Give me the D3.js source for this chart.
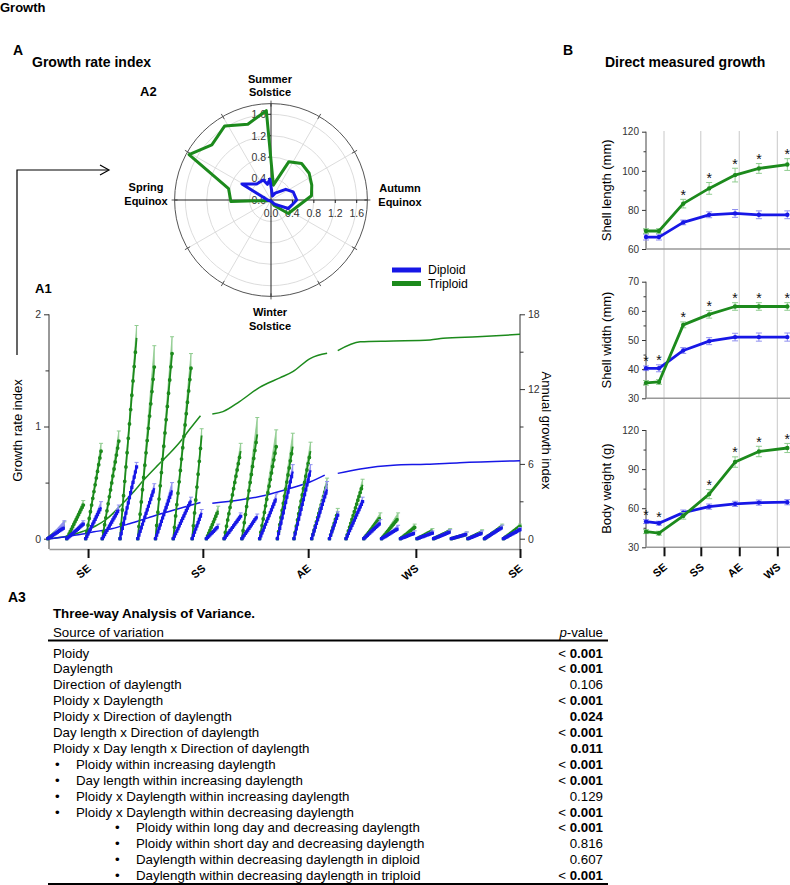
<!DOCTYPE html>
<html>
<head>
<meta charset="utf-8">
<title>Growth</title>
<script src="https://cdn.jsdelivr.net/npm/d3@7"></script>
<style>
  body { margin: 0; background: #fff; }
  text { font-family: "Liberation Sans", Arial, Helvetica, sans-serif; }
</style>
</head>
<body>
<div id="growthChart"></div>
<script>
// ---------- data ----------
const seasonLabels = ['SE', 'SS', 'AE', 'WS', 'SE']
const seasonDays = [0, 97, 186, 277, 365]   // days after spring equinox

// A1: sampling periods (days after SE) and end-of-period growth rate index
const periodStart = [-34, -18, -2, 12, 27, 42, 57, 72, 88, 100, 115, 130, 145, 160, 174, 189, 204, 218, 233, 248, 264, 278, 292, 307, 321, 335, 351]
const periodEnd   = [-20, -4, 11, 26, 41, 56, 71, 87, 96, 110, 129, 143, 159, 173, 188, 202, 211, 232, 247, 262, 276, 291, 306, 320, 333, 350, 365]
const triPeak = [0.12, 0.30, 0.78, 0.87, 1.79, 1.53, 1.65, 1.52, 0.92, 0.25, 0.78, 0.93, 0.82, 0.82, 0.78, 0.49, 0.24, 0.48, 0.19, 0.18, 0.10, 0.07, 0.07, 0.04, 0.06, 0.11, 0.11]
const triErr  = [0.03, 0.04, 0.07, 0.09, 0.11, 0.19, 0.15, 0.13, 0.06, 0.04, 0.07, 0.15, 0.15, 0.12, 0.08, 0.05, 0.03, 0.05, 0.04, 0.05, 0.03, 0.02, 0.02, 0.02, 0.02, 0.02, 0.02]
const dipPeak = [0.10, 0.13, 0.28, 0.26, 0.64, 0.45, 0.43, 0.34, 0.23, 0.11, 0.20, 0.20, 0.36, 0.60, 0.61, 0.44, 0.21, 0.33, 0.14, 0.09, 0.05, 0.05, 0.06, 0.04, 0.05, 0.10, 0.08]
const dipErr  = [0.06, 0.03, 0.05, 0.04, 0.04, 0.04, 0.07, 0.03, 0.03, 0.02, 0.03, 0.02, 0.04, 0.06, 0.05, 0.07, 0.03, 0.04, 0.03, 0.03, 0.02, 0.02, 0.02, 0.02, 0.02, 0.02, 0.02]

// A1: annual growth index (right axis), null = gap in record
const triAnnualDays = [-34, -18, -4, 6, 16, 27, 37, 47, 58, 69, 78, 86, 95, 96, 105, 114, 128, 145, 162, 173, 188, 202, 203, 211, 230, 258, 289, 300, 329, 365]
const triAnnual     = [0, 0.2, 0.6, 1.0, 1.6, 2.6, 3.6, 4.7, 5.8, 6.85, 7.8, 8.8, 9.87, null, 10.0, 10.19, 11.0, 12.14, 12.9, 13.4, 14.47, 14.87, null, 15.08, 15.8, 15.86, 15.94, 16.07, 16.2, 16.39]
const dipAnnualDays = [-32, -10, 5, 20, 35, 50, 65, 80, 95, 96, 105, 128, 151, 171, 188, 200, 201, 211, 230, 258, 286, 314, 365]
const dipAnnual     = [0, 0.3, 0.55, 0.8, 1.2, 1.65, 2.1, 2.5, 2.9, null, 2.84, 3.1, 3.5, 4.04, 4.57, 5.1, null, 5.24, 5.6, 5.9, 5.97, 6.1, 6.26]

// A2: polar growth rate index (angle clockwise from summer solstice, degrees)
const polarTriAngle = [9, 25, 40, 55, 70, 84, 128, 150, 180, 215, 250, 268, 285, 299, 313, 328, 343, 357]
const polarTriValue = [0.28, 0.79, 0.89, 0.87, 0.81, 0.76, 0.41, 0.12, 0.02, 0.02, 0.03, 0.75, 0.82, 1.75, 1.51, 1.63, 1.48, 1.67]
const polarDipAngle = [20, 31, 54, 70, 90, 104, 116, 140, 180, 220, 260, 299, 318, 339, 347, 357]
const polarDipValue = [0.08, 0.15, 0.34, 0.44, 0.48, 0.40, 0.36, 0.10, 0.02, 0.02, 0.05, 0.62, 0.40, 0.40, 0.30, 0.39]
const polarTicks = [0, 0.4, 0.8, 1.2, 1.6]

// B: direct measurements
const bTickLabels = ['SE', 'SS', 'AE', 'WS']
const bTickDays = [0, 88, 180, 271]
const bDays = [-43, -12, 46, 108, 170, 227, 295]
const lengthTri = [69.2, 69.2, 83.2, 91.0, 97.8, 101.2, 103.2]
const lengthTriErr = [1.2, 1.2, 2.2, 3.0, 3.5, 2.5, 3.0]
const lengthDip = [66.1, 66.1, 73.6, 77.5, 78.2, 77.5, 77.5]
const lengthDipErr = [1.5, 1.5, 1.2, 1.5, 2.0, 2.0, 2.0]
const lengthStars = [2, 3, 4, 5, 6]
const widthTri = [35.3, 35.6, 55.2, 58.8, 61.5, 61.5, 61.5]
const widthTriErr = [0.8, 0.8, 1.0, 1.3, 1.3, 1.3, 1.3]
const widthDip = [40.3, 40.3, 46.4, 49.6, 51.0, 51.0, 51.0]
const widthDipErr = [0.8, 1.2, 1.0, 1.2, 1.3, 1.4, 1.4]
const widthStars = [0, 1, 2, 3, 4, 5, 6]
const weightTri = [42.0, 40.8, 54.1, 70.8, 95.4, 103.5, 106.2]
const weightTriErr = [1.5, 1.5, 2.5, 3.5, 4.0, 4.0, 3.5]
const weightDip = [49.7, 48.5, 56.6, 61.2, 63.3, 64.3, 64.6]
const weightDipErr = [1.5, 1.5, 2.0, 2.0, 2.0, 2.0, 2.0]
const weightStars = [0, 1, 3, 4, 5, 6]

// A3: ANOVA table
const anovaSource = [
  'Ploidy', 'Daylength', 'Direction of daylength', 'Ploidy x Daylength',
  'Ploidy x Direction of daylength', 'Day length x Direction of daylength',
  'Ploidy x Day length x Direction of daylength',
  'Ploidy within increasing daylength', 'Day length within increasing daylength',
  'Ploidy x Daylength within increasing daylength', 'Ploidy x Daylength within decreasing daylength',
  'Ploidy within long day and decreasing daylength', 'Ploidy within short day and decreasing daylength',
  'Daylength within decreasing daylength in diploid', 'Daylength within decreasing daylength in triploid'
]
const anovaLevel = [0, 0, 0, 0, 0, 0, 0, 1, 1, 1, 1, 2, 2, 2, 2]
const anovaP = ['< 0.001', '< 0.001', '0.106', '< 0.001', '0.024', '< 0.001', '0.011', '< 0.001', '< 0.001', '0.129', '< 0.001', '< 0.001', '0.816', '0.607', '< 0.001']

// ---------- styles ----------
const green = '#1c8a1c', greenLight = '#8fcc8f'
const blue = '#1717e6', blueLight = '#9090f0'

const svg = d3.select('#growthChart').append('svg')
  .attr('width', 790).attr('height', 885)

function addText (g, x, y, str, size, weight, anchor) {
  return g.append('text').attr('x', x).attr('y', y)
    .attr('font-size', size).attr('font-weight', weight || 'normal')
    .attr('text-anchor', anchor || 'start').attr('fill', '#000')
    .text(str)
}

// headings
addText(svg, 0, 12, 'Growth', 13, 'bold')
addText(svg, 13, 55, 'A', 14, 'bold')
addText(svg, 32, 67, 'Growth rate index', 14, 'bold')
addText(svg, 140, 96, 'A2', 13, 'bold')
addText(svg, 35, 293, 'A1', 13, 'bold')
addText(svg, 563, 55, 'B', 14, 'bold')
addText(svg, 605, 67, 'Direct measured growth', 14, 'bold')

// arrow from A1 to A2
svg.append('path').attr('d', 'M17,355V170H108').attr('fill', 'none').attr('stroke', '#000').attr('stroke-width', 1.2)
svg.append('path').attr('d', 'M100,165L109,170L100,175').attr('fill', 'none').attr('stroke', '#000').attr('stroke-width', 1.2)

// ---------- A2 polar ----------
const rP = d3.scaleLinear().domain([0, 1.8]).range([0, 96.4])
const polar = svg.append('g').attr('transform', 'translate(271,200)')
const R = rP(1.8)

polar.selectAll('.ring').data(polarTicks.slice(1)).join('circle')
  .attr('class', 'ring').attr('r', d => rP(d))
  .attr('fill', 'none').attr('stroke', '#d8d8d8').attr('stroke-width', 0.9)
polar.selectAll('.spoke').data(d3.range(30, 360, 30).filter(a => a % 90 !== 0)).join('line')
  .attr('class', 'spoke')
  .attr('x2', a => R * Math.sin(a * Math.PI / 180)).attr('y2', a => -R * Math.cos(a * Math.PI / 180))
  .attr('stroke', '#d8d8d8').attr('stroke-width', 0.9)
polar.append('circle').attr('r', R).attr('fill', 'none').attr('stroke', '#555').attr('stroke-width', 1)
polar.selectAll('.otick').data(d3.range(0, 360, 30)).join('line')
  .attr('class', 'otick')
  .attr('x1', a => (R - 3) * Math.sin(a * Math.PI / 180)).attr('y1', a => -(R - 3) * Math.cos(a * Math.PI / 180))
  .attr('x2', a => (R + 3) * Math.sin(a * Math.PI / 180)).attr('y2', a => -(R + 3) * Math.cos(a * Math.PI / 180))
  .attr('stroke', '#555')
polar.append('line').attr('x1', -R).attr('x2', R).attr('stroke', '#222')
polar.append('line').attr('y1', -R).attr('y2', R).attr('stroke', '#222')
polar.selectAll('.htick').data(polarTicks).join('line').attr('class', 'htick')
  .attr('x1', d => rP(d)).attr('x2', d => rP(d)).attr('y2', 3).attr('stroke', '#222')
polar.selectAll('.vtick').data(polarTicks).join('line').attr('class', 'vtick')
  .attr('y1', d => -rP(d)).attr('y2', d => -rP(d)).attr('x2', -3).attr('stroke', '#222')
polar.selectAll('.hlab').data(polarTicks).join('text').attr('class', 'hlab')
  .attr('x', d => rP(d)).attr('y', 16.5).attr('text-anchor', 'middle')
  .attr('font-size', 10.5).attr('fill', '#333').text(d => d.toFixed(1))
polar.selectAll('.vlab').data(polarTicks).join('text').attr('class', 'vlab')
  .attr('x', -5).attr('y', d => -rP(d) + 3.8).attr('text-anchor', 'end')
  .attr('font-size', 10.5).attr('fill', '#333').text(d => d.toFixed(1))

const radial = d3.lineRadial()
  .angle(d => d[0] * Math.PI / 180)
  .radius(d => rP(d[1]))
  .curve(d3.curveLinearClosed)
polar.append('path').datum(polarTriAngle.map((a, i) => [a, polarTriValue[i]]))
  .attr('d', radial).attr('fill', 'none').attr('stroke', green)
  .attr('stroke-width', 3).attr('stroke-linejoin', 'round')
polar.append('path').datum(polarDipAngle.map((a, i) => [a, polarDipValue[i]]))
  .attr('d', radial).attr('fill', 'none').attr('stroke', blue)
  .attr('stroke-width', 3).attr('stroke-linejoin', 'round')

addText(svg, 270, 83, 'Summer', 11, 'bold', 'middle')
addText(svg, 270, 96, 'Solstice', 11, 'bold', 'middle')
addText(svg, 146, 191, 'Spring', 11, 'bold', 'middle')
addText(svg, 146, 205, 'Equinox', 11, 'bold', 'middle')
addText(svg, 400, 192, 'Autumn', 11, 'bold', 'middle')
addText(svg, 400, 206, 'Equinox', 11, 'bold', 'middle')
addText(svg, 270, 316, 'Winter', 11, 'bold', 'middle')
addText(svg, 270, 329.5, 'Solstice', 11, 'bold', 'middle')

// legend
const legend = svg.append('g')
;[['Diploid', blue], ['Triploid', green]].forEach(([name, c], i) => {
  legend.append('line').attr('x1', 392).attr('x2', 421).attr('y1', 270 + i * 13.5).attr('y2', 270 + i * 13.5)
    .attr('stroke', c).attr('stroke-width', 5)
  addText(legend, 428, 274.2 + i * 13.5, name, 12.3)
})

// ---------- A1 ----------
const xA = d3.scaleLinear().domain([-33, 365]).range([49, 520])
const yRate = d3.scaleLinear().domain([0, 2]).range([538.7, 314.3])
const yAnnual = d3.scaleLinear().domain([0, 18]).range([538.7, 314.3])
const a1Bottom = 549

function styleAxis (g) {
  g.attr('font-family', null)
  g.selectAll('.tick text').attr('font-size', 10.5).attr('fill', '#333')
  g.selectAll('.tick line').attr('stroke', '#333')
}

const leftAx = svg.append('g').attr('transform', `translate(${xA(-33)},0)`)
  .call(d3.axisLeft(yRate).tickValues([0, 0.5, 1, 1.5, 2]).tickSize(5).tickFormat(d => Number.isInteger(d) ? d : ''))
leftAx.select('.domain').remove()
leftAx.append('line').attr('y1', yRate(2)).attr('y2', a1Bottom).attr('stroke', '#333')
leftAx.selectAll('.tick line').filter(d => !Number.isInteger(d)).attr('x2', -3.5)
styleAxis(leftAx)

const rightAx = svg.append('g').attr('transform', `translate(${xA(365)},0)`)
  .call(d3.axisRight(yAnnual).tickValues([0, 3, 6, 9, 12, 15, 18]).tickSize(5).tickFormat(d => d % 6 === 0 ? d : ''))
rightAx.select('.domain').remove()
rightAx.append('line').attr('y1', yAnnual(18)).attr('y2', a1Bottom).attr('stroke', '#333')
rightAx.selectAll('.tick line').filter(d => d % 6 !== 0).attr('x2', 3.5)
styleAxis(rightAx)

const bottomAx = svg.append('g').attr('transform', `translate(0,${a1Bottom})`)
  .call(d3.axisBottom(xA).tickValues(seasonDays).tickSize(9).tickSizeOuter(0).tickFormat((d, i) => seasonLabels[i]))
bottomAx.attr('font-family', null)
bottomAx.select('.domain').attr('stroke', '#999').attr('stroke-width', 1.6)
bottomAx.selectAll('.tick line').attr('stroke', '#111').attr('stroke-width', 2)
bottomAx.selectAll('.tick text').attr('y', 0).attr('dy', 0).attr('fill', '#000')
  .attr('font-size', 11).attr('font-weight', 'bold').attr('text-anchor', 'end')
  .attr('transform', 'translate(3,20.5) rotate(-40)')

svg.append('text').attr('transform', `translate(22,${(yRate(0) + yRate(2)) / 2 + 4}) rotate(-90)`)
  .attr('text-anchor', 'middle').attr('font-size', 13).text('Growth rate index')
svg.append('text').attr('transform', `translate(542,${(yRate(0) + yRate(2)) / 2 + 4}) rotate(90)`)
  .attr('text-anchor', 'middle').attr('font-size', 13).text('Annual growth index')

// annual growth index lines
const annualLine = d3.line()
  .defined(d => d[1] != null)
  .x(d => xA(d[0])).y(d => yAnnual(d[1]))
  .curve(d3.curveMonotoneX)
svg.append('path').datum(triAnnualDays.map((d, i) => [d, triAnnual[i]]))
  .attr('d', annualLine).attr('fill', 'none').attr('stroke', green).attr('stroke-width', 1.5)
svg.append('path').datum(dipAnnualDays.map((d, i) => [d, dipAnnual[i]]))
  .attr('d', annualLine).attr('fill', 'none').attr('stroke', blue).attr('stroke-width', 1.5)

// period growth spikes: line with one marker per day, error bars merge into a light wedge
function drawSpikes (peaks, errs, color, light, lineW, dotW, cap) {
  const g = svg.append('g')
  const rows = periodStart.map((s, i) => ({ s, e: periodEnd[i], v: peaks[i], err: errs[i] }))
  const seg = d => d3.line()([[xA(d.s), yRate(0)], [xA(d.e), yRate(d.v)]])
  g.selectAll('.err').data(rows).join('path').attr('class', 'err')
    .attr('d', d => d3.line()([[xA(d.s), yRate(0)], [xA(d.e), yRate(d.v + d.err)], [xA(d.e), yRate(d.v)]]) + 'Z')
    .attr('fill', light).attr('stroke', light).attr('stroke-width', 0.8)
  g.selectAll('.cap').data(rows).join('line').attr('class', 'cap')
    .attr('x1', d => xA(d.e) - 2).attr('x2', d => xA(d.e) + 2)
    .attr('y1', d => yRate(d.v + d.err)).attr('y2', d => yRate(d.v + d.err))
    .attr('stroke', light).attr('stroke-width', 1)
  g.selectAll('.ln').data(rows).join('path').attr('class', 'ln')
    .attr('d', seg).attr('fill', 'none').attr('stroke', color).attr('stroke-width', lineW)
  g.selectAll('.dots').data(rows).join('path').attr('class', 'dots')
    .attr('d', seg).attr('pathLength', d => d.e - d.s)
    .attr('fill', 'none').attr('stroke', color).attr('stroke-width', dotW)
    .attr('stroke-dasharray', '0 1').attr('stroke-linecap', cap)
}
drawSpikes(triPeak, triErr, green, greenLight, 1.8, 3.8, 'round')
drawSpikes(dipPeak, dipErr, blue, blueLight, 2.2, 3.2, 'square')

// ---------- B ----------
const xB = d3.scaleLinear().domain([0, 271]).range([664, 777.3])
const bAxisX = 646, bRightX = 790, bTop = 131, bBottom = 547.3

svg.append('g').selectAll('line').data(bTickDays).join('line')
  .attr('x1', d => xB(d)).attr('x2', d => xB(d)).attr('y1', bTop).attr('y2', bBottom)
  .attr('stroke', '#c2c2c2').attr('stroke-width', 0.9)

const panels = [
  { label: 'Shell length (mm)', domain: [60, 120], range: [249, 131.7], ticks: [60, 70, 80, 90, 100, 110, 120], step: 20,
    tri: lengthTri, triErr: lengthTriErr, dip: lengthDip, dipErr: lengthDipErr, stars: lengthStars },
  { label: 'Shell width (mm)', domain: [30, 70], range: [398.3, 281.7], ticks: [30, 35, 40, 45, 50, 55, 60, 65, 70], step: 10,
    tri: widthTri, triErr: widthTriErr, dip: widthDip, dipErr: widthDipErr, stars: widthStars },
  { label: 'Body weight (g)', domain: [30, 120], range: [bBottom, 430], ticks: [30, 45, 60, 75, 90, 105, 120], step: 30,
    tri: weightTri, triErr: weightTriErr, dip: weightDip, dipErr: weightDipErr, stars: weightStars }
]

function drawSeries (g, y, vals, errs, color, light) {
  const pts = bDays.map((d, i) => ({ x: xB(d), v: vals[i], e: errs[i] }))
  g.append('g').selectAll('path').data(pts).join('path')
    .attr('d', d => `M${d.x},${y(d.v - d.e)}V${y(d.v + d.e)}M${d.x - 3},${y(d.v - d.e)}h6M${d.x - 3},${y(d.v + d.e)}h6`)
    .attr('stroke', light).attr('stroke-width', 1).attr('fill', 'none')
  g.append('path').datum(pts)
    .attr('d', d3.line().x(d => d.x).y(d => y(d.v)))
    .attr('fill', 'none').attr('stroke', color).attr('stroke-width', 2.8).attr('stroke-linejoin', 'round')
  g.append('g').selectAll('circle').data(pts).join('circle')
    .attr('cx', d => d.x).attr('cy', d => y(d.v)).attr('r', 2.2).attr('fill', color)
}

panels.forEach(p => {
  const y = d3.scaleLinear().domain(p.domain).range(p.range)
  const g = svg.append('g')
  const ax = g.append('g').attr('transform', `translate(${bAxisX},0)`)
    .call(d3.axisLeft(y).tickValues(p.ticks).tickSize(4)
      .tickFormat(d => (d - p.domain[0]) % p.step === 0 ? d : ''))
  ax.select('.domain').remove()
  ax.append('line').attr('y1', p.range[0]).attr('y2', p.range[1]).attr('stroke', '#444')
  ax.selectAll('.tick line').filter(d => (d - p.domain[0]) % p.step !== 0).attr('x2', -2.5)
  styleAxis(ax)
  ax.selectAll('.tick text').attr('font-size', 10)
  g.append('line').attr('x1', bAxisX).attr('x2', bRightX).attr('y1', p.range[0]).attr('y2', p.range[0])
    .attr('stroke', '#999').attr('stroke-width', 1.6)

  drawSeries(g, y, p.dip, p.dipErr, blue, blueLight)
  drawSeries(g, y, p.tri, p.triErr, green, greenLight)

  g.selectAll('.star').data(p.stars).join('text').attr('class', 'star')
    .attr('x', i => xB(bDays[i])).attr('text-anchor', 'middle')
    .attr('y', i => Math.min(y(p.tri[i] + p.triErr[i]), y(p.dip[i] + p.dipErr[i])) + 0.5)
    .attr('font-size', 14).attr('fill', '#111').text('*')

  svg.append('text').attr('transform', `translate(611,${(p.range[0] + p.range[1]) / 2}) rotate(-90)`)
    .attr('text-anchor', 'middle').attr('font-size', 13).text(p.label)
})

const bAx = svg.append('g').attr('transform', `translate(0,${bBottom})`)
  .call(d3.axisBottom(xB).tickValues(bTickDays).tickSize(9).tickSizeOuter(0).tickFormat((d, i) => bTickLabels[i]))
bAx.attr('font-family', null)
bAx.select('.domain').remove()
bAx.selectAll('.tick line').attr('stroke', '#111').attr('stroke-width', 2)
bAx.selectAll('.tick text').attr('y', 0).attr('dy', 0).attr('fill', '#000')
  .attr('font-size', 11).attr('font-weight', 'bold').attr('text-anchor', 'end')
  .attr('transform', 'translate(3.5,21) rotate(-40)')

// ---------- A3 table ----------
const tbl = svg.append('g')
const rowY = i => 657.5 + i * 15.9
const pRight = 603
addText(tbl, 8, 602, 'A3', 14, 'bold')
addText(tbl, 53, 617.7, 'Three-way Analysis of Variance.', 13.3, 'bold')
addText(tbl, 53, 636.5, 'Source of variation', 13.3)
const pHead = tbl.append('text').attr('x', pRight).attr('y', 636.5).attr('text-anchor', 'end').attr('font-size', 13.3)
pHead.append('tspan').attr('font-style', 'italic').text('p')
pHead.append('tspan').text('-value')
tbl.append('line').attr('x1', 48).attr('x2', 608).attr('y1', 640.5).attr('y2', 640.5)
  .attr('stroke', '#000').attr('stroke-width', 1.8)

anovaSource.forEach((s, i) => {
  const lvl = anovaLevel[i]
  const textX = lvl === 0 ? 53 : lvl === 1 ? 76 : 136
  if (lvl > 0) addText(tbl, lvl === 1 ? 55 : 115, rowY(i), '•', 13.3)
  addText(tbl, textX, rowY(i), s, 13.3)
  const p = anovaP[i]
  const t = tbl.append('text').attr('x', pRight).attr('y', rowY(i)).attr('text-anchor', 'end').attr('font-size', 13.3)
  if (p.startsWith('<')) {
    t.append('tspan').text('< ')
    t.append('tspan').attr('font-weight', 'bold').text(p.slice(2))
  } else {
    t.append('tspan').attr('font-weight', +p < 0.05 ? 'bold' : 'normal').text(p)
  }
})
tbl.append('line').attr('x1', 48).attr('x2', 608).attr('y1', 884).attr('y2', 884)
  .attr('stroke', '#000').attr('stroke-width', 2)
</script>
</body>
</html>
